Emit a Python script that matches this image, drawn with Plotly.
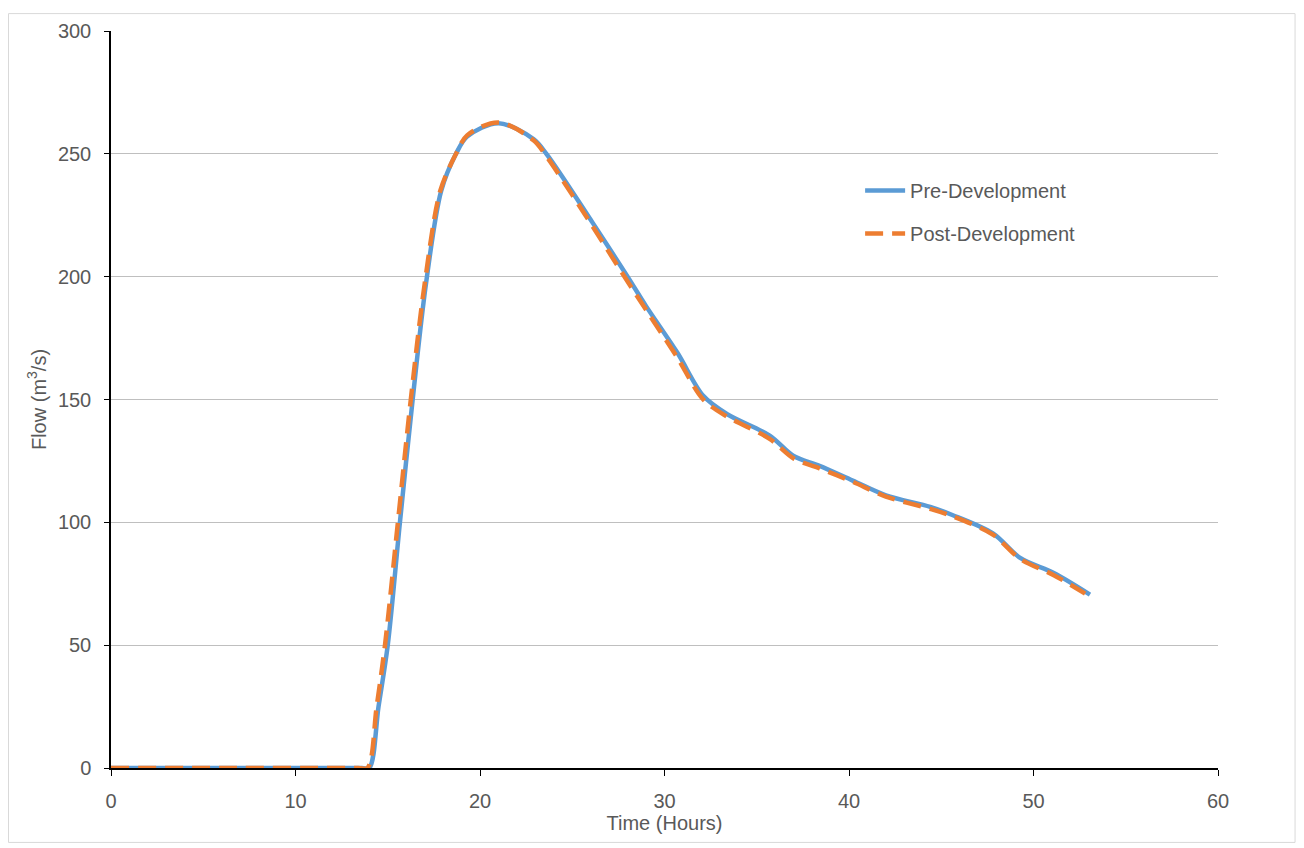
import plotly.graph_objects as go

# Time (hours) and flow (m3/s)
pre_t = [0, 6, 13.6, 14.0, 14.5, 15.0, 15.66, 16.35, 17.07, 17.9, 18.7, 19.3, 21.0, 22.9, 23.6,
         26.1, 28.0, 29.0, 30.7, 32.1, 33.4, 35.7, 37.0, 38.4, 40.2, 42.0, 44.4, 45.6, 47.8,
         49.3, 51.1, 53.06]
pre_q = [0, 0, 0, 0, 25, 50, 100, 150, 197, 235, 250, 257, 262.5, 256, 250,
         222, 200, 188, 169, 151.5, 144, 135.3, 127, 123, 117, 111, 106.3, 103, 95.5,
         85.4, 79.4, 70.6]

post_t = [0, 6, 13.4, 13.9, 14.4, 14.85, 15.55, 16.25, 17.0, 17.85, 18.7, 19.3, 21.0, 22.9, 23.6,
          26.1, 28.0, 29.0, 30.7, 32.1, 33.4, 35.7, 37.0, 38.4, 40.2, 42.0, 44.4, 45.6, 47.8,
          49.3, 51.1, 52.8]
post_q = [0, 0, 0, 0, 25, 50, 100, 150, 197, 235, 250, 257.5, 262.8, 255.5, 249,
          220.5, 198, 186.5, 167, 150, 143, 134, 126, 122, 116.5, 110.5, 105.5, 102.5, 95,
          85, 78.5, 71]

x_ticks = [0, 10, 20, 30, 40, 50, 60]
y_ticks = [0, 50, 100, 150, 200, 250, 300]

FONT = "Liberation Sans, Arial, sans-serif"
TXT = "#595959"

fig = go.Figure()
fig.add_trace(go.Scatter(
    x=pre_t, y=pre_q, mode="lines", name="Pre-Development", legendgroup="a",
    line=dict(color="#5B9BD5", width=4.5, shape="spline", smoothing=0.9),
))
fig.add_trace(go.Scatter(
    x=post_t, y=post_q, mode="lines", name="Post-Development", legendgroup="b",
    line=dict(color="#ED7D31", width=4.5, dash="18px,9px", shape="spline", smoothing=0.9),
))

fig.update_layout(
    width=1296, height=840,
    margin=dict(l=103, r=86, t=18, b=80),
    paper_bgcolor="white", plot_bgcolor="white",
    font=dict(family=FONT, size=20, color=TXT),
    showlegend=True,
    legend=dict(x=0.6767, y=0.81, xanchor="left", yanchor="top",
                traceorder="grouped", tracegroupgap=14,
                font=dict(family=FONT, size=20, color=TXT),
                bgcolor="rgba(0,0,0,0)", itemwidth=40),
    xaxis=dict(range=[0, 60], tickvals=x_ticks, showgrid=False, zeroline=False,
               showline=True, linecolor="#000000", linewidth=1.5,
               ticks="outside", ticklen=6, tickcolor="#000000", tickwidth=1,
               ticklabelstandoff=8,
               tickfont=dict(size=20, color=TXT),
               title=dict(text="Time (Hours)", font=dict(size=20, color=TXT), standoff=2)),
    yaxis=dict(range=[0, 300], tickvals=y_ticks, showgrid=True, gridcolor="#BFBFBF",
               gridwidth=1, zeroline=False,
               showline=True, linecolor="#000000", linewidth=1.5,
               ticks="outside", ticklen=5, tickcolor="#000000", tickwidth=1,
               ticklabelstandoff=9,
               tickfont=dict(size=20, color=TXT),
               title=dict(text="Flow (m<sup>3</sup>/s)", font=dict(size=20, color=TXT), standoff=6)),
    shapes=[dict(type="rect", xref="paper", yref="paper",
                 x0=-0.0926, x1=1.0696, y0=-0.101, y1=1.0236,
                 line=dict(color="#D9D9D9", width=1), layer="below")],
)

fig.write_html("out.html")
